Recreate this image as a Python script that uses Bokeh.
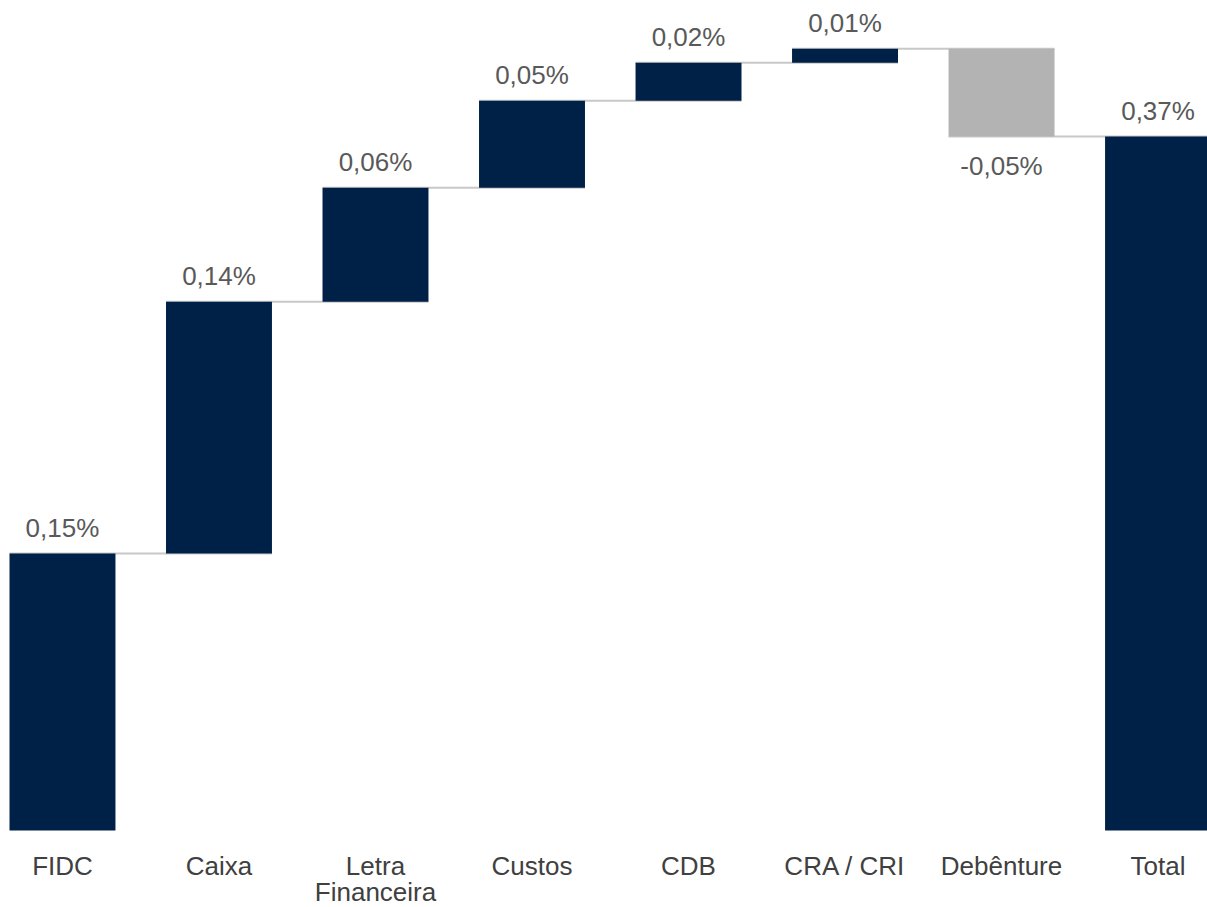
import numpy as np
from bokeh.plotting import figure
from bokeh.models import ColumnDataSource, Range1d
from bokeh.embed import file_html
from bokeh.resources import INLINE
from bokeh.core.properties import value

# ---- data ----
categories = ["FIDC", "Caixa", "Letra\nFinanceira", "Custos", "CDB", "CRA / CRI", "Debênture", "Total"]
contributions = [0.1496, 0.1361, 0.0616, 0.0470, 0.0205, 0.0076, -0.0475]
value_labels = ["0,15%", "0,14%", "0,06%", "0,05%", "0,02%", "0,01%", "-0,05%", "0,37%"]

POS = "#002147"
NEG = "#b3b3b3"
CONN = "#c8c8c8"
FONT = "Liberation Sans"
BAR_W = 0.677

n = len(categories)
xs = np.arange(n, dtype=float)
contrib = np.array(contributions)
ends = np.cumsum(contrib)
starts = ends - contrib
total = ends[-1]

tops = list(np.maximum(starts, ends)) + [total]
bottoms = list(np.minimum(starts, ends)) + [0.0]
colors = [POS if c >= 0 else NEG for c in contributions] + [POS]
signs = list(contrib >= 0) + [True]

bars = ColumnDataSource(dict(x=xs, top=tops, bottom=bottoms, color=colors))

# connectors: from left edge of bar i to right edge of bar i+1 at running level
levels = list(ends)
conn = ColumnDataSource(dict(
    x0=[xs[i] - BAR_W / 2 for i in range(n - 1)],
    x1=[xs[i + 1] + BAR_W / 2 for i in range(n - 1)],
    y=levels,
))

pos_idx = [i for i in range(n) if signs[i]]
neg_idx = [i for i in range(n) if not signs[i]]
lab_pos = ColumnDataSource(dict(x=[xs[i] for i in pos_idx], y=[tops[i] for i in pos_idx],
                                t=[value_labels[i] for i in pos_idx]))
lab_neg = ColumnDataSource(dict(x=[xs[i] for i in neg_idx], y=[bottoms[i] for i in neg_idx],
                                t=[value_labels[i] for i in neg_idx]))

line1 = [c.split("\n")[0] for c in categories]
line2 = [c.split("\n")[1] if "\n" in c else "" for c in categories]
cats1 = ColumnDataSource(dict(x=xs, y=[0.0] * n, t=line1))
cats2 = ColumnDataSource(dict(x=xs, y=[0.0] * n, t=line2))

p = figure(width=1207, height=907, output_backend="svg", toolbar_location=None,
           x_range=Range1d(-0.396, 7.316), y_range=Range1d(-0.0416, 0.4484),
           x_axis_type=None, y_axis_type=None, min_border=0)
p.outline_line_color = None
p.grid.visible = False
p.background_fill_color = "white"

p.segment(x0="x0", x1="x1", y0="y", y1="y", source=conn, line_color=CONN, line_width=2)
p.vbar(x="x", top="top", bottom="bottom", width=BAR_W, fill_color="color",
       line_color=None, source=bars)

p.text(x="x", y="y", text="t", source=lab_pos, text_font=value(FONT), text_font_size="26px",
       text_color="#595959", text_align="center", text_baseline="alphabetic", y_offset=-26)
p.text(x="x", y="y", text="t", source=lab_neg, text_font=value(FONT), text_font_size="26px",
       text_color="#595959", text_align="center", text_baseline="top", y_offset=14)
p.text(x="x", y="y", text="t", source=cats1, text_font=value(FONT), text_font_size="26px",
       text_color="#404040", text_align="center", text_baseline="top", y_offset=21)
p.text(x="x", y="y", text="t", source=cats2, text_font=value(FONT), text_font_size="26px",
       text_color="#404040", text_align="center", text_baseline="top", y_offset=47)

open("out.html", "w").write(file_html(p, INLINE))
